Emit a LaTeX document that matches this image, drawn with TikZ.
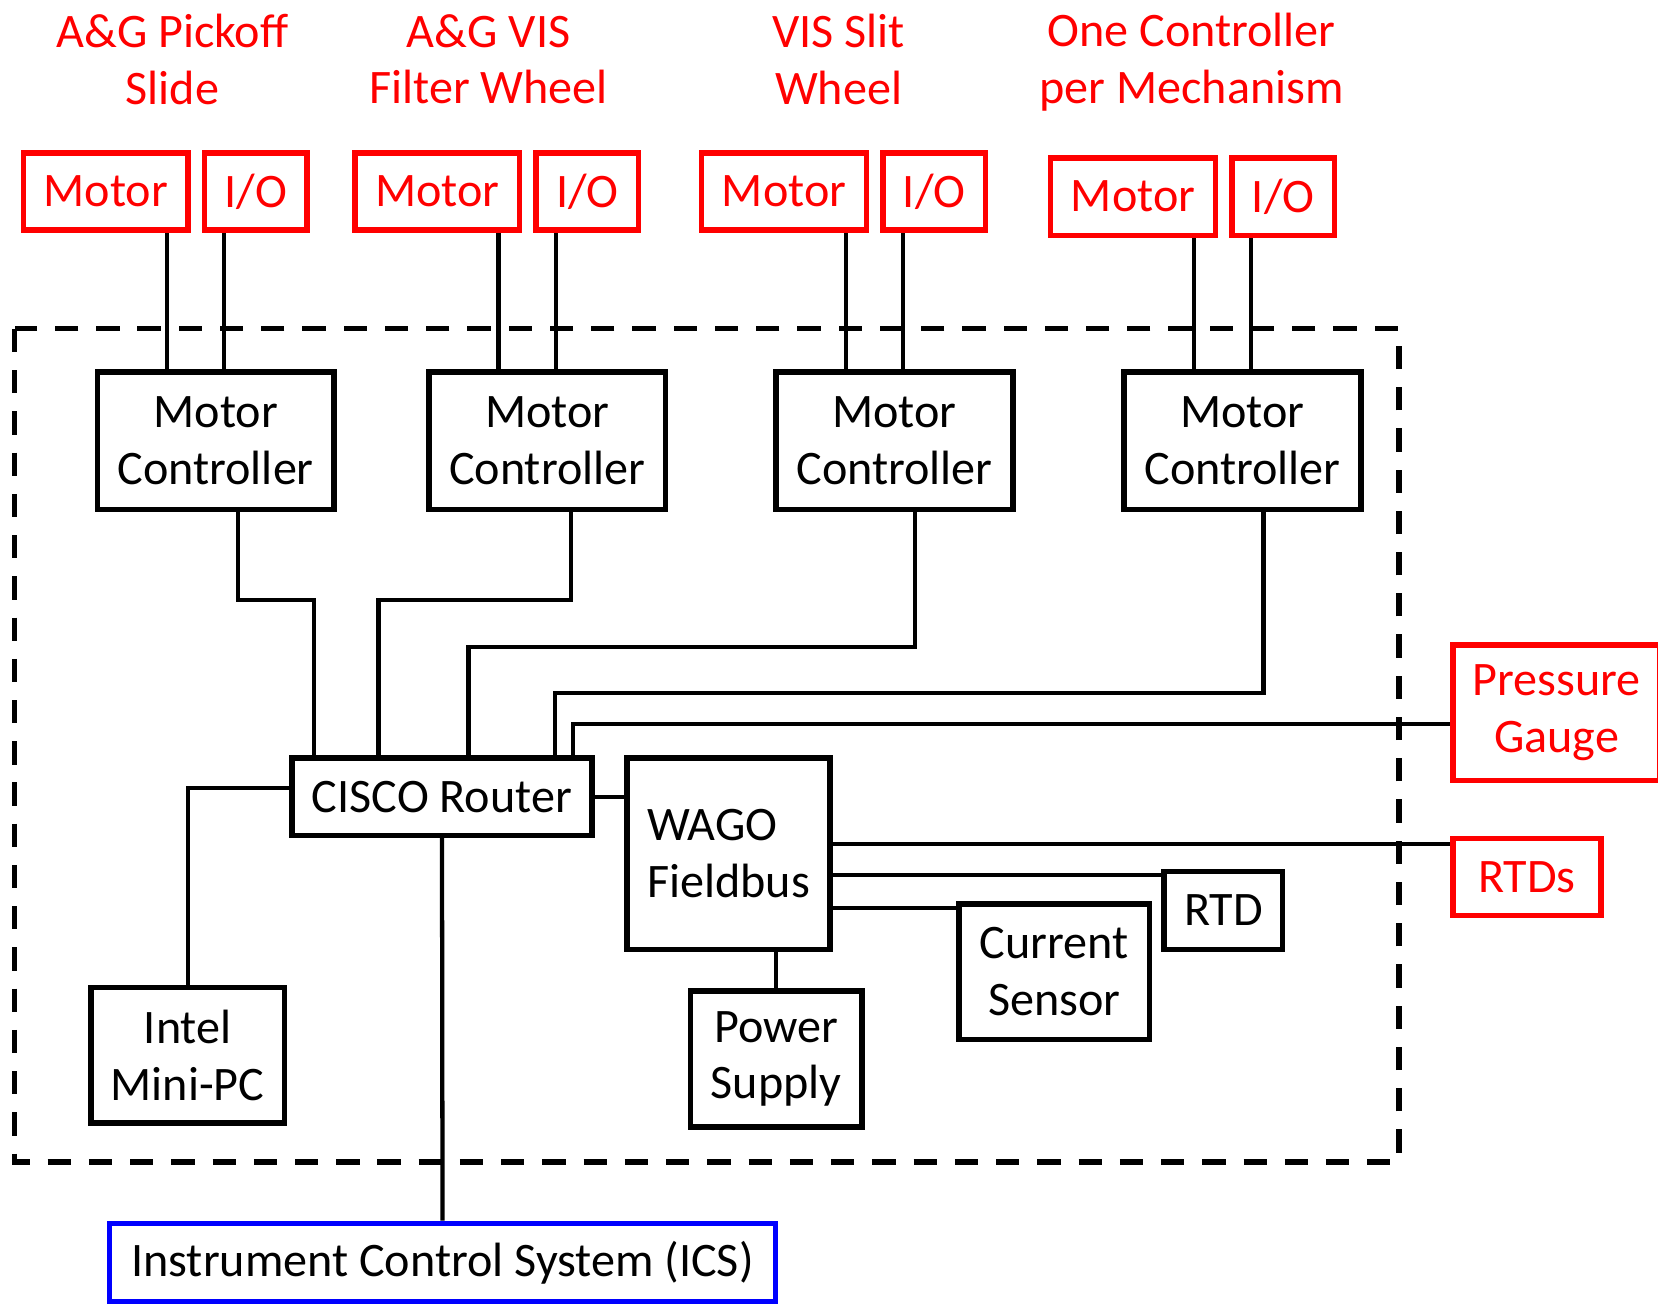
\documentclass[tikz,border=0pt]{standalone}
\usepackage{fontspec}
\setmainfont{Carlito}
\begin{document}
\begin{tikzpicture}[line join=miter]
        \tikzstyle{device}=[draw=black,line width=1.48pt,inner sep=0pt,align=center,font=\fontsize{12.95}{15.3}\selectfont]
        \tikzstyle{remote}=[device,draw=red,text=red]
        \tikzstyle{title}=[align=center,text=red,font=\fontsize{12.95}{15.3}\selectfont]
        \tikzstyle{wire}=[draw=black,line width=1.15pt]
        \tikzstyle{enclosure}=[draw=black,line width=1.42pt,dash pattern=on 0.22cm off 0.17cm]

        \useasboundingbox (0,0) rectangle (15.68,-12.35);

        % electronics enclosure
        \draw[enclosure] (0.14,-3.11) rectangle (13.23,-10.99);

        % mechanisms
        \node [title] (t1) at (1.63,-0.56) {A\&G Pickoff\\Slide};
        \node [title] (t2) at (4.62,-0.56) {A\&G VIS\\Filter Wheel};
        \node [title] (t3) at (7.93,-0.56) {VIS Slit\\Wheel};
        \node [title] (t4) at (11.27,-0.59) {One Controller\\per Mechanism};

        \node [remote,minimum width=1.56cm,minimum height=0.73cm] (mot1) at (1.00,-1.81) {Motor};
        \node [remote,minimum width=0.97cm,minimum height=0.73cm] (io1) at (2.42,-1.81) {I/O};
        \node [remote,minimum width=1.56cm,minimum height=0.73cm] (mot2) at (4.135,-1.81) {Motor};
        \node [remote,minimum width=0.97cm,minimum height=0.73cm] (io2) at (5.555,-1.81) {I/O};
        \node [remote,minimum width=1.56cm,minimum height=0.73cm] (mot3) at (7.415,-1.81) {Motor};
        \node [remote,minimum width=0.97cm,minimum height=0.73cm] (io3) at (8.835,-1.81) {I/O};
        \node [remote,minimum width=1.56cm,minimum height=0.73cm] (mot4) at (10.715,-1.86) {Motor};
        \node [remote,minimum width=0.97cm,minimum height=0.73cm] (io4) at (12.135,-1.86) {I/O};

        % controllers
        \node [device,minimum width=2.24cm,minimum height=1.30cm] (ctrl1) at (2.04,-4.17) {Motor\\Controller};
        \node [device,minimum width=2.24cm,minimum height=1.30cm] (ctrl2) at (5.175,-4.17) {Motor\\Controller};
        \node [device,minimum width=2.24cm,minimum height=1.30cm] (ctrl3) at (8.46,-4.17) {Motor\\Controller};
        \node [device,minimum width=2.24cm,minimum height=1.30cm] (ctrl4) at (11.75,-4.17) {Motor\\Controller};

        \node [device,minimum width=2.84cm,minimum height=0.73cm] (router) at (4.18,-7.535) {CISCO Router};
        \node [device,align=left,minimum width=1.92cm,minimum height=1.81cm] (wago) at (6.89,-8.075) {WAGO\\Fieldbus};
        \node [device,minimum width=1.83cm,minimum height=1.28cm] (intel) at (1.775,-9.98) {Intel\\Mini-PC};
        \node [device,minimum width=1.62cm,minimum height=1.29cm] (power) at (7.34,-10.015) {Power\\Supply};
        \node [device,minimum width=1.80cm,minimum height=1.28cm] (cur) at (9.97,-9.19) {Current\\Sensor};
        \node [device,minimum width=1.12cm,minimum height=0.74cm] (rtd) at (11.57,-8.61) {RTD};

        \node [remote,minimum width=1.96cm,minimum height=1.28cm] (gauge) at (14.72,-6.74) {Pressure\\Gauge};
        \node [remote,minimum width=1.40cm,minimum height=0.73cm] (rtds) at (14.44,-8.295) {RTDs};

        \node [device,draw=blue,minimum width=6.30cm,minimum height=0.74cm] (ics) at (4.185,-11.94) {Instrument Control System (ICS)};

        % motor and I/O cables
        \draw[wire] ([xshift=-0.46cm]ctrl1.north) -- ([xshift=-0.46cm]ctrl1.north |- mot1.south);
        \draw[wire] ([xshift=0.08cm]ctrl1.north) -- ([xshift=0.08cm]ctrl1.north |- io1.south);
        \draw[wire] ([xshift=-0.46cm]ctrl2.north) -- ([xshift=-0.46cm]ctrl2.north |- mot2.south);
        \draw[wire] ([xshift=0.08cm]ctrl2.north) -- ([xshift=0.08cm]ctrl2.north |- io2.south);
        \draw[wire] ([xshift=-0.46cm]ctrl3.north) -- ([xshift=-0.46cm]ctrl3.north |- mot3.south);
        \draw[wire] ([xshift=0.08cm]ctrl3.north) -- ([xshift=0.08cm]ctrl3.north |- io3.south);
        \draw[wire] ([xshift=-0.46cm]ctrl4.north) -- ([xshift=-0.46cm]ctrl4.north |- mot4.south);
        \draw[wire] ([xshift=0.08cm]ctrl4.north) -- ([xshift=0.08cm]ctrl4.north |- io4.south);

        % network
        \draw[wire] ([xshift=0.21cm]ctrl1.south) -- ++(0,-0.83) -| ([xshift=-1.21cm]router.north);
        \draw[wire] ([xshift=0.225cm]ctrl2.south) -- ++(0,-0.83) -| ([xshift=-0.60cm]router.north);
        \draw[wire] ([xshift=0.19cm]ctrl3.south) -- ++(0,-1.27) -| ([xshift=0.25cm]router.north);
        \draw[wire] ([xshift=0.20cm]ctrl4.south) -- ++(0,-1.71) -| ([xshift=1.07cm]router.north);
        \draw[wire] ([xshift=1.24cm]router.north) |- ([yshift=-0.11cm]gauge.west);
        \draw[wire] ([yshift=0.08cm]router.west) -| (intel.north);
        \draw[wire] (router.east) -- (router.east -| wago.west);
        \draw[wire] (router.south) -- (ics.north);

        % fieldbus I/O
        \draw[wire] ([yshift=0.095cm]wago.east) -- ([yshift=0.095cm]wago.east -| rtds.west);
        \draw[wire] ([yshift=-0.20cm]wago.east) -- ([yshift=-0.20cm]wago.east -| rtd.west);
        \draw[wire] ([yshift=-0.515cm]wago.east) -- ([yshift=-0.515cm]wago.east -| cur.west);
        \draw[wire] (power.north) -- (power.north |- wago.south);
\end{tikzpicture}
\end{document}
